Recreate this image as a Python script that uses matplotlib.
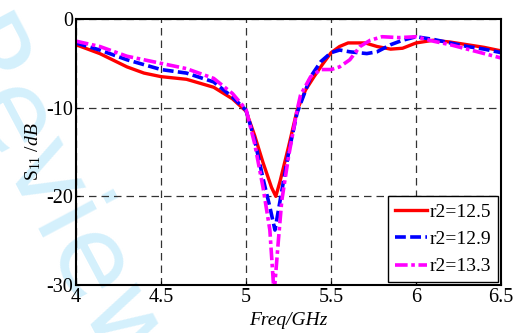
import matplotlib
matplotlib.use('Agg')
import matplotlib.pyplot as plt

plt.rcParams['font.family'] = 'Liberation Serif'
plt.rcParams['mathtext.fontset'] = 'custom'
plt.rcParams['mathtext.rm'] = 'Liberation Serif'
plt.rcParams['mathtext.it'] = 'Liberation Serif:italic'
plt.rcParams['axes.unicode_minus'] = False

# S11 data (GHz, dB)
f_a = [4.0, 4.14, 4.3, 4.4, 4.5, 4.65, 4.81, 4.92, 5.0, 5.05, 5.1, 5.15,
       5.175, 5.2, 5.25, 5.3, 5.35, 5.4, 5.45, 5.5, 5.55, 5.6, 5.7, 5.77,
       5.85, 5.92, 6.0, 6.1, 6.2, 6.3, 6.4, 6.5]
s_a = [-2.9, -3.9, -5.4, -6.1, -6.5, -6.8, -7.7, -9.0, -10.4, -13.1, -16.2, -19.0,
       -20.0, -18.3, -14.4, -10.3, -8.0, -6.5, -5.1, -3.8, -3.1, -2.7, -2.7, -3.1,
       -3.4, -3.3, -2.7, -2.4, -2.6, -2.9, -3.2, -3.6]

f_b = [4.0, 4.14, 4.3, 4.5, 4.65, 4.81, 4.92, 5.0, 5.05, 5.1, 5.14,
       5.17, 5.21, 5.25, 5.3, 5.38, 5.44, 5.5, 5.55, 5.61, 5.71, 5.77,
       5.85, 5.92, 6.0, 6.1, 6.2, 6.3, 6.4, 6.5]
s_b = [-2.7, -3.5, -4.6, -5.7, -6.1, -7.1, -8.8, -10.3, -13.6, -18.0, -21.2,
       -23.8, -19.4, -15.1, -10.6, -6.5, -4.8, -3.8, -3.5, -3.7, -3.9, -3.7,
       -2.9, -2.4, -2.0, -2.3, -2.7, -3.1, -3.4, -3.8]

f_c = [4.0, 4.14, 4.3, 4.5, 4.65, 4.81, 4.92, 5.0, 5.05, 5.1, 5.14,
       5.165, 5.19, 5.21, 5.25, 5.3, 5.32, 5.38, 5.44, 5.5, 5.55, 5.61,
       5.67, 5.73, 5.8, 5.9, 6.0, 6.1, 6.2, 6.3, 6.4, 6.5]
s_c = [-2.5, -3.1, -4.2, -5.0, -5.6, -6.7, -8.4, -10.2, -14.0, -19.0, -23.8,
       -31.0, -25.0, -20.5, -15.5, -10.3, -8.6, -6.5, -5.7, -5.7, -5.4, -4.6,
       -3.1, -2.4, -2.0, -2.1, -2.0, -2.5, -2.9, -3.4, -3.9, -4.4]

labels = ['r2=12.5', 'r2=12.9', 'r2=13.3']

fig = plt.figure(figsize=(5.13, 3.33), dpi=100)

# faint watermark behind everything, mostly off the left edge
fig.text(0.10, 0.38, 'Review', rotation=-62, fontsize=80, color='#d4f0fc',
         ha='center', va='center', family='DejaVu Sans', zorder=-1)

ax = fig.add_axes([0.148, 0.144, 0.829, 0.799])
ax.set_facecolor('none')

ax.plot(f_a, s_a, '-', color='#ff0000', lw=2.4, label=labels[0])
ax.plot(f_b, s_b, '--', color='#0000ff', lw=2.6, dashes=(3, 1.2), label=labels[1])
ax.plot(f_c, s_c, '-.', color='#ff00ff', lw=2.6, dashes=(3.5, 1, 1, 1), label=labels[2])

ax.set_xlim(4, 6.5)
ax.set_ylim(-30, 0)
ax.set_xticks([4, 4.5, 5, 5.5, 6, 6.5])
ax.set_xticklabels(['4', '4.5', '5', '5.5', '6', '6.5'])
ax.set_yticks([-30, -20, -10, 0])

ax.grid(True, color='#333333', ls=(0, (6, 4)), lw=0.9)
ax.tick_params(direction='in', length=3, labelsize=14.5, pad=2)
for s in ax.spines.values():
    s.set_linewidth(1.5)

ax.set_xlabel('Freq/GHz', fontsize=14, style='italic', labelpad=4)
ax.set_ylabel(r'S$_{11}$ /$\mathit{dB}$', fontsize=14, labelpad=2)

leg = ax.legend(loc='lower right', fontsize=14, frameon=True, fancybox=False,
                edgecolor='black', framealpha=1, handlelength=1.65,
                handletextpad=0.15, borderpad=0.35, labelspacing=0.5,
                borderaxespad=0.15)
leg.get_frame().set_linewidth(1.0)

plt.savefig('out.png', dpi=100)
